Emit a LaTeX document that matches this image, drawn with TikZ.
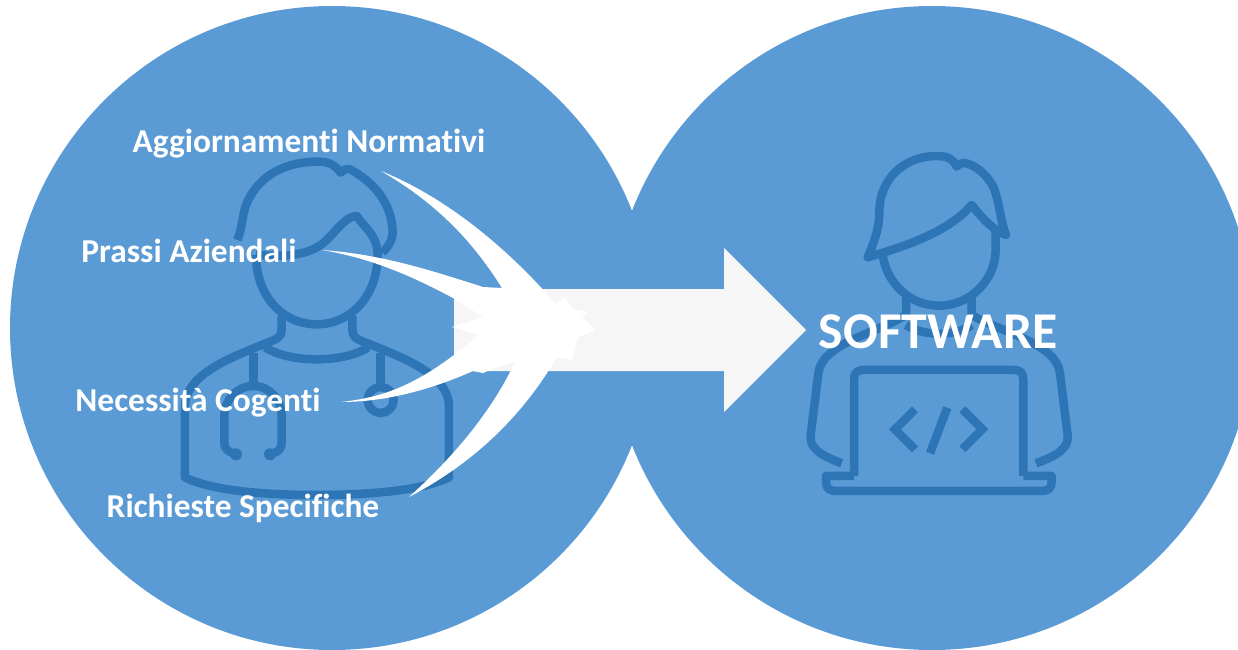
\documentclass[tikz,border=0pt]{standalone}
\usepackage{fontspec}
\setmainfont[RawFeature={-liga;-clig}]{Carlito}
\definecolor{disc}{HTML}{5B9BD5}
\definecolor{icon}{HTML}{2E75B6}
\definecolor{arrowfill}{HTML}{F6F6F6}
\tikzset{
  discshape/.style={fill=disc,draw=none},
  iconline/.style={draw=icon,line width=8.5pt,line join=round,fill=none},
  label/.style={text=white,font=\fontsize{33.4}{35}\selectfont\bfseries,anchor=center,inner sep=0pt},
  biglabel/.style={text=white,font=\fontsize{51.6}{53}\selectfont\bfseries,anchor=center,inner sep=0pt},
  zoomed/.style={shift={(#1,140)},x=0.3333pt,y=-0.3333pt}
}
\begin{document}
\begin{tikzpicture}[x=1pt,y=-1pt]
\useasboundingbox (0,0) rectangle (1238,649);
\clip (0,0) rectangle (1238,649);
\fill[white] (0,0) rectangle (1238,649);
\node[discshape,circle,minimum size=644pt,inner sep=0pt] (leftdisc) at (332,328) {};
\node[discshape,circle,minimum size=644pt,inner sep=0pt] (rightdisc) at (932,328) {};

% doctor
\begin{scope}[zoomed=150]
\draw[iconline] (262,300) .. controls (280,260) and (275,210) .. (300,170) .. controls (345,90) and (430,65) .. (500,65)
  .. controls (530,65) and (550,68) .. (572,98) .. controls (580,90) and (590,85) .. (600,88)
  .. controls (670,125) and (728,190) .. (728,280) .. controls (728,300) and (715,320) .. (697,338);
\draw[iconline] (318,345) .. controls (400,350) and (480,350) .. (530,300) .. controls (565,265) and (590,228) .. (620,228)
  .. controls (640,260) and (683,285) .. (683,345) .. controls (683,470) and (600,553) .. (500,553)
  .. controls (400,553) and (318,470) .. (318,345);
\draw[iconline] (395,528) -- (395,570) .. controls (395,590) and (380,597) .. (365,603)
  .. controls (250,650) and (105,700) .. (105,800) -- (105,1012)
  .. controls (200,1060) and (400,1065) .. (500,1065) .. controls (600,1065) and (800,1060) .. (897,1012)
  -- (897,800) .. controls (897,700) and (750,650) .. (635,603) .. controls (620,597) and (607,590) .. (607,570) -- (607,528);
\draw[iconline] (345,622) .. controls (420,670) and (580,670) .. (655,622);
\draw[iconline] (310,640) -- (310,738);
\draw[iconline,line cap=round] (258,943) .. controls (235,935) and (223,930) .. (223,905) -- (223,830)
  .. controls (223,780) and (260,738) .. (310,738) .. controls (360,738) and (395,780) .. (395,830)
  -- (395,905) .. controls (395,930) and (385,935) .. (360,943);
\fill[icon] (258,943) circle (18) (360,943) circle (18);
\draw[iconline] (692,640) -- (692,735);
\draw[iconline] (692,780) circle (39);
\end{scope}

% programmer
\begin{scope}[zoomed=790]
\draw[iconline,line cap=round] (233,352) .. controls (340,320) and (470,280) .. (545,195)
  .. controls (570,225) and (600,265) .. (648,285) .. controls (630,240) and (630,190) .. (610,140)
  .. controls (590,105) and (560,75) .. (520,68) .. controls (510,70) and (505,75) .. (500,80)
  .. controls (490,55) and (470,48) .. (440,48) .. controls (340,48) and (268,120) .. (268,215)
  .. controls (268,270) and (250,310) .. (233,352);
\draw[iconline] (278,345) .. controls (290,430) and (360,497) .. (447,497) .. controls (540,497) and (617,420) .. (617,330) -- (617,262);
\draw[iconline] (348,470) -- (348,525) .. controls (260,580) and (95,610) .. (85,700) -- (62,885)
  .. controls (58,925) and (90,945) .. (155,970);
\draw[iconline] (545,470) -- (545,525) .. controls (640,580) and (800,610) .. (810,700) -- (833,885)
  .. controls (837,925) and (805,945) .. (738,970);
\draw[iconline] (348,555) .. controls (400,590) and (500,590) .. (545,555);
\draw[iconline] (192,1008) -- (192,720) .. controls (192,700) and (200,690) .. (220,690) -- (672,690)
  .. controls (692,690) and (700,700) .. (700,720) -- (700,1008);
\draw[iconline] (192,1008) -- (108,1008) -- (108,1025) .. controls (108,1045) and (118,1053) .. (138,1053)
  -- (755,1053) .. controls (775,1053) and (785,1045) .. (785,1025) -- (785,1008) -- (700,1008);
\draw[iconline,line join=miter] (375,808) -- (315,868) -- (375,928);
\draw[iconline] (472,803) -- (420,940);
\draw[iconline,line join=miter] (517,808) -- (577,868) -- (517,928);
\end{scope}

% big arrow
\fill[arrowfill] (454,289) -- (724,289) -- (724,248) -- (806,330) -- (724,412) -- (724,371) -- (454,371) -- cycle;

% white swooshes converging
\fill[white] (381,171) .. controls (440,195) and (500,240) .. (556,304)
  -- (564,297) -- (573,309) -- (587,312) -- (582,317) -- (596,330) -- (578,337) -- (572,360) -- (557,357)
  .. controls (520,420) and (470,465) .. (409,497)
  .. controls (450,460) and (490,415) .. (515,362)
  -- (497,367) -- (483,373) -- (473,371) .. controls (430,390) and (385,402) .. (341,402)
  .. controls (385,397) and (420,385) .. (479,335)
  -- (452,327) -- (483,317) -- (453,298)
  .. controls (410,275) and (370,258) .. (322,250)
  .. controls (380,254) and (430,270) .. (483,287)
  -- (502,288) -- (502,288)
  .. controls (475,245) and (440,205) .. (381,171) -- cycle;

% labels
\node[label] (norm) at (309,144) {Aggiornamenti Normativi};
\node[label] (prassi) at (189,251) {Prassi Aziendali};
\node[label] (cogenti) at (198,403) {Necessità Cogenti};
\node[label] (richieste) at (243,508) {Richieste Specifiche};
\node[biglabel] (software) at (938,332) {SOFTWARE};
\end{tikzpicture}
\end{document}
